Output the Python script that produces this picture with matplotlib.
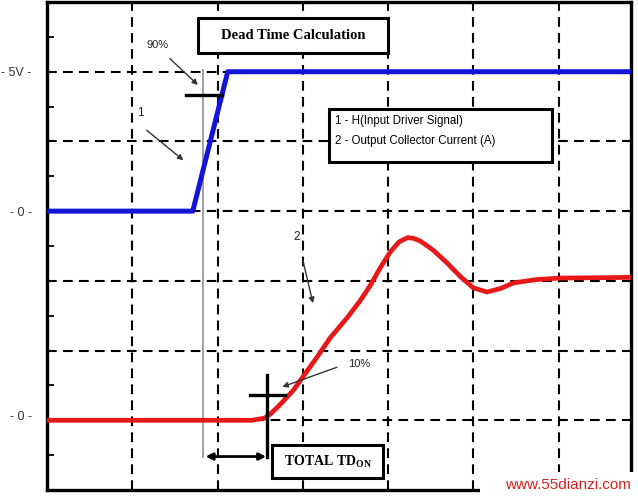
import matplotlib
matplotlib.use("Agg")
import matplotlib.pyplot as plt
from matplotlib.patches import Rectangle

plt.rcParams['lines.scale_dashes'] = False

# trace 1 - input driver signal (x in time divisions, y in screen divisions)
drv_t = [0.0, 1.71, 2.12, 6.85]
drv_v = [4.0, 4.0, 6.0, 6.0]

# trace 2 - output collector current
cur_t = [0.0, 2.40, 2.55, 2.62, 2.73, 2.89, 3.00, 3.17, 3.32, 3.52, 3.67, 3.79,
         3.91, 4.03, 4.13, 4.23, 4.30, 4.38, 4.53, 4.69, 4.85, 5.00, 5.16, 5.32,
         5.47, 5.75, 6.02, 6.85]
cur_v = [1.0, 1.0, 1.03, 1.09, 1.22, 1.43, 1.62, 1.91, 2.18, 2.47, 2.71, 2.93,
         3.19, 3.42, 3.56, 3.62, 3.61, 3.57, 3.44, 3.26, 3.06, 2.90, 2.84, 2.89,
         2.97, 3.02, 3.04, 3.05]

ytick_pos = [1.07, 4.0, 6.0]
ytick_lab = ['- 0 -', '- 0 -', '- 5V -']

fig = plt.figure(figsize=(6.38, 4.96), dpi=100)
ax = fig.add_axes([47/638, 6/496, 584/638, 488/496])
ax.set_xlim(0, 6.85)
ax.set_ylim(0, 7)

# dashed graticule
for gx in range(1, 7):
    ax.axvline(gx, color='black', lw=1.5, ls=(0, (7, 4.5)), zorder=1)
for gy in range(1, 7):
    ax.axhline(gy, color='black', lw=1.5, ls=(0, (7, 4.5)), zorder=1)

ax.plot(drv_t, drv_v, color='#1414d8', lw=3.6, solid_capstyle='butt', zorder=3)
ax.plot(cur_t, cur_v, color='#e81818', lw=3.4, solid_capstyle='butt',
        solid_joinstyle='round', zorder=3)

# 90% / 10% markers and dead-time span
ax.plot([1.83, 1.83], [6.03, 0.48], color='#999999', lw=1.3, zorder=2)
ax.plot([1.63, 2.05], [5.67, 5.67], color='black', lw=2.4, zorder=4)
ax.plot([2.38, 2.79], [1.36, 1.36], color='black', lw=2.4, zorder=4)
ax.plot([2.58, 2.58], [1.65, 0.47], color='black', lw=2.4, zorder=4)
ax.annotate('', xy=(2.57, 0.48), xytext=(1.86, 0.48),
            arrowprops=dict(arrowstyle='<|-|>', color='black', lw=2,
                            mutation_scale=10, shrinkA=0, shrinkB=0), zorder=4)

arr = dict(arrowstyle='-|>', color='#333333', lw=1.0, mutation_scale=8,
           shrinkA=0, shrinkB=0)
ax.text(1.30, 6.38, '90%', fontsize=8, ha='center', va='center',
        family='Liberation Sans', color='#222222')
ax.annotate('', xy=(1.77, 5.81), xytext=(1.44, 6.19), arrowprops=arr)
ax.text(1.09, 5.41, '1', fontsize=8.5, ha='center', va='center',
        family='Liberation Sans', color='#222222')
ax.annotate('', xy=(1.60, 4.73), xytext=(1.17, 5.16), arrowprops=arr)
ax.text(2.93, 3.63, '2', fontsize=8.5, ha='center', va='center',
        family='Liberation Sans', color='#222222')
ax.annotate('', xy=(3.12, 2.68), xytext=(3.00, 3.30), arrowprops=arr)
ax.text(3.66, 1.81, '10%', fontsize=8, ha='center', va='center',
        family='Liberation Sans', color='#222222')
ax.annotate('', xy=(2.76, 1.48), xytext=(3.40, 1.76), arrowprops=arr)

# boxed labels
def boxed(x0, y0, x1, y1):
    ax.add_patch(Rectangle((x0, y0), x1 - x0, y1 - y0, facecolor='white',
                           edgecolor='black', lw=2.2, zorder=5))

boxed(1.77, 6.27, 4.00, 6.77)
ax.text(2.89, 6.52, 'Dead Time Calculation', fontsize=10.5, weight='bold',
        family='Liberation Serif', ha='center', va='center', zorder=6)
boxed(3.31, 4.71, 5.92, 5.47)
ax.text(3.38, 5.30, '1 - H(Input Driver Signal)', fontsize=8.3,
        family='Liberation Sans', ha='left', va='center', zorder=6)
ax.text(3.38, 5.00, '2 - Output Collector Current (A)', fontsize=8.3,
        family='Liberation Sans', ha='left', va='center', zorder=6)
boxed(2.64, 0.17, 3.94, 0.65)
ax.text(3.29, 0.41, r'TOTAL TD$_{\mathregular{ON}}$', fontsize=10, weight='bold',
        family='Liberation Serif', ha='center', va='center', zorder=6)

# frame and ticks
for s in ax.spines.values():
    s.set_linewidth(2.4)
ax.set_xticks([])
ax.set_yticks(ytick_pos)
ax.set_yticklabels(ytick_lab, fontsize=9, family='Liberation Sans', color='#333333')
ax.tick_params(axis='y', which='major', length=0, pad=11)
ax.set_yticks([k + 0.5 for k in range(7)], minor=True)
ax.tick_params(axis='y', which='minor', direction='in', length=5, width=1.3)

# site watermark
fig.patches.append(Rectangle((480/638, 0), 158/638, 24/496, transform=fig.transFigure,
                             facecolor='white', edgecolor='none', zorder=10))
fig.text(568/638, 11/496, 'www.55dianzi.com', color='#d42020', fontsize=11,
         family='Liberation Sans', ha='center', va='center', zorder=11)

fig.savefig('out.png', dpi=100)
